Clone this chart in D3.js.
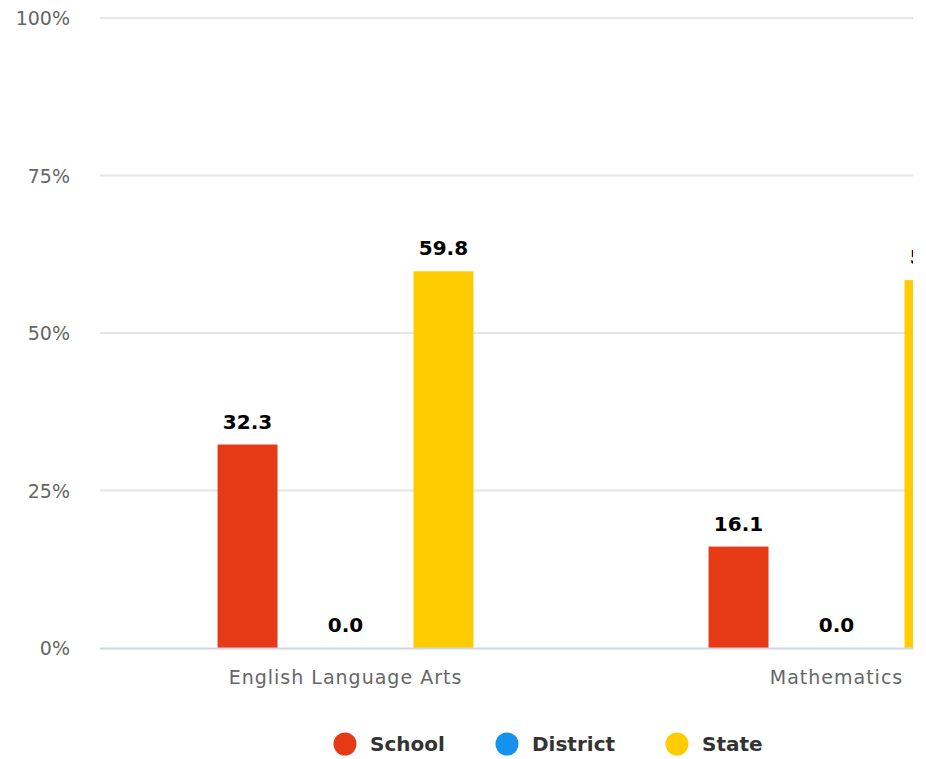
<!DOCTYPE html>
<html><head><meta charset="utf-8">
<script src="https://cdn.jsdelivr.net/npm/d3@7"></script>
<style>body{margin:0;background:#fff}svg{display:block}</style>
</head><body>
<script>
const categories = ["English Language Arts", "Mathematics"];
const seriesNames = ["School", "District", "State"];
const seriesColors = ["#e63a17", "#1592ee", "#ffcc00"];
const school = [32.3, 16.1];
const district = [0.0, 0.0];
const state = [59.8, 58.4];
const yTicks = [0, 25, 50, 75, 100];

const values = [school, district, state];
const W = 926, H = 759;
const svg = d3.select("body").append("svg").attr("width", W).attr("height", H);
const font = "'DejaVu Sans', Verdana, sans-serif";

const plotLeft = 100, plotRight = 913, y0 = 648, yTop = 18;
const x = d3.scaleBand().domain(categories).range([plotLeft, plotLeft + 982]);
const y = d3.scaleLinear().domain([0, 100]).range([y0, yTop]);
const xs = d3.scaleBand().domain(seriesNames).range([0, x.bandwidth()]).paddingInner(0.388).paddingOuter(1.2);

svg.append("defs").append("clipPath").attr("id", "clip")
  .append("rect").attr("x", plotLeft).attr("y", 0).attr("width", plotRight - plotLeft).attr("height", y0 + 1);

// y axis labels
const yAxis = d3.axisLeft(y).tickValues(yTicks).tickSize(0).tickFormat(d => d + "%");
const gy = svg.append("g").attr("transform", `translate(70,0)`).call(yAxis);
gy.select(".domain").remove();
gy.selectAll("text").attr("font-family", font).attr("font-size", 19).attr("fill", "#666").attr("x", 0).attr("dy", "0.35em");

// grid
svg.append("g").selectAll("line").data(yTicks.filter(t => t > 0)).join("line")
  .attr("x1", plotLeft).attr("x2", plotRight).attr("y1", d => y(d)).attr("y2", d => y(d))
  .attr("stroke", "#e6e6e6").attr("stroke-width", 2);

const plot = svg.append("g").attr("clip-path", "url(#clip)");
seriesNames.forEach((s, si) => {
  plot.append("g").selectAll("rect").data(categories).join("rect")
    .attr("x", c => x(c) + xs(s)).attr("width", xs.bandwidth())
    .attr("y", (c, i) => y(values[si][i])).attr("height", (c, i) => y0 - y(values[si][i]))
    .attr("fill", seriesColors[si]);
});
seriesNames.forEach((s, si) => {
  plot.append("g").selectAll("text").data(categories).join("text")
    .attr("x", c => x(c) + xs(s) + xs.bandwidth() / 2)
    .attr("y", (c, i) => y(values[si][i]) - 16)
    .attr("text-anchor", "middle").attr("font-family", font).attr("font-size", 20)
    .attr("font-weight", 600).attr("fill", "#000")
    .text((c, i) => values[si][i].toFixed(1));
});

// x axis
svg.append("line").attr("x1", plotLeft).attr("x2", plotRight).attr("y1", y0 + 0.5).attr("y2", y0 + 0.5)
  .attr("stroke", "#ccd6eb").attr("stroke-width", 2);
const xAxis = d3.axisBottom(x).tickSize(0);
const gx = svg.append("g").attr("transform", `translate(0,${y0})`).call(xAxis);
gx.select(".domain").remove();
gx.selectAll("text").attr("font-family", font).attr("font-size", 19).attr("fill", "#666")
  .attr("letter-spacing", 1).attr("dy", "1.75em");

// legend
const legendX = [345, 507, 677];
const lg = svg.append("g");
seriesNames.forEach((s, i) => {
  lg.append("circle").attr("cx", legendX[i]).attr("cy", 744).attr("r", 11.5).attr("fill", seriesColors[i]);
  lg.append("text").attr("x", legendX[i] + 25).attr("y", 744).attr("dy", "0.36em")
    .attr("font-family", font).attr("font-size", 20).attr("font-weight", 600).attr("fill", "#333").text(s);
});
</script>
</body></html>
